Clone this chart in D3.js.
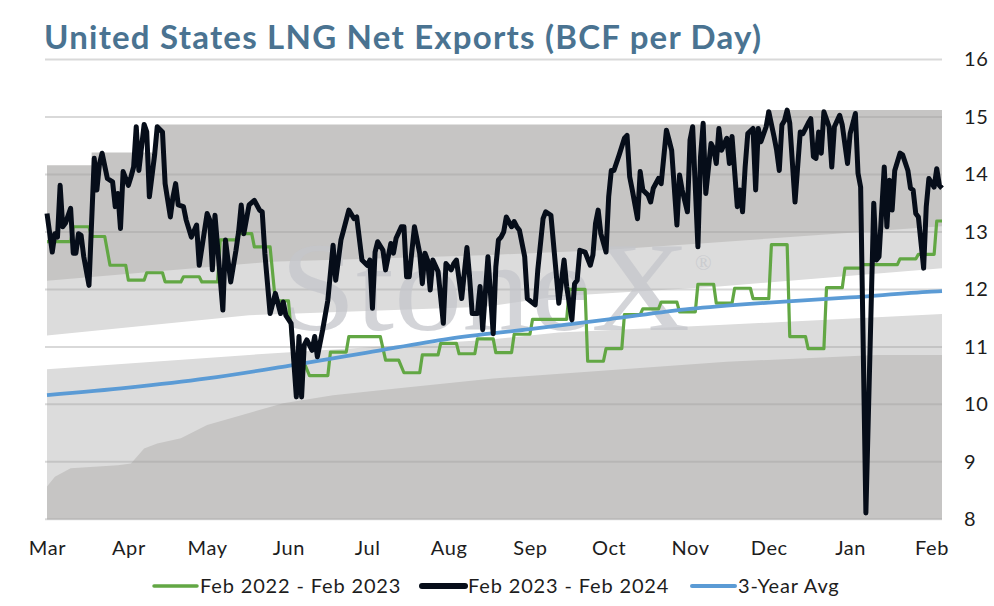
<!DOCTYPE html>
<html>
<head>
<meta charset="utf-8">
<script src="https://cdn.jsdelivr.net/npm/d3@7"></script>
<style>
  html, body { margin: 0; padding: 0; background: #fff; overflow: hidden; }
  svg { display: block; }
  text { font-family: Lato, 'Open Sans', sans-serif; }
</style>
</head>
<body>
<div id="chart"></div>
<script>
  // axis labels
  var yTicks = [8, 9, 10, 11, 12, 13, 14, 15, 16];
  var monthLabels = ['Mar', 'Apr', 'May', 'Jun', 'Jul', 'Aug', 'Sep', 'Oct', 'Nov', 'Dec', 'Jan', 'Feb'];
  var seriesNames = ['Feb 2022 - Feb 2023', 'Feb 2023 - Feb 2024', '3-Year Avg'];

  // days are counted from Mar 1
  var blackDay = [0, 2, 3, 4, 5, 6, 7, 9, 10, 11, 12, 13, 14, 16, 18, 19, 20, 21, 23, 25, 26, 27, 28, 29, 31, 32, 33, 34, 35, 37, 38, 39, 41, 42, 44, 45, 47, 48, 49, 50, 52, 53, 55, 57, 58, 61, 62, 63, 64, 67, 68, 70, 72, 73, 74, 75, 77, 79, 81, 82, 83, 85, 87, 89, 90, 91, 93, 95, 96, 97, 98, 99, 101, 102, 103, 105, 107, 109, 110, 112, 113, 115, 117, 118, 120, 122, 123, 124, 125, 126, 128, 129, 131, 132, 133, 135, 136, 137, 138, 140, 142, 143, 144, 145, 146, 147, 149, 151, 152, 154, 155, 156, 158, 160, 161, 162, 164, 165, 166, 168, 170, 171, 172, 173, 174, 175, 177, 178, 179, 180, 182, 183, 186, 187, 189, 190, 192, 194, 195, 197, 198, 200, 201, 202, 203, 205, 207, 208, 209, 210, 211, 213, 214, 215, 216, 218, 220, 221, 222, 223, 225, 226, 227, 229, 230, 231, 233, 234, 236, 237, 238, 240, 241, 242, 244, 245, 246, 248, 249, 250, 251, 253, 254, 255, 256, 257, 259, 260, 261, 263, 264, 265, 266, 267, 269, 270, 271, 272, 274, 275, 277, 278, 279, 280, 281, 282, 283, 285, 287, 288, 290, 291, 292, 293, 294, 295, 296, 298, 299, 300, 302, 303, 305, 306, 308, 309, 310, 312, 315, 316, 317, 319, 320, 321, 322, 323, 325, 326, 328, 329, 330, 331, 332, 334, 335, 336, 338, 339, 340, 341];
  var blackVal = [13.32, 12.65, 12.97, 12.91, 13.81, 13.09, 13.15, 13.41, 12.63, 12.63, 12.97, 12.94, 12.57, 12.07, 14.28, 13.73, 14.19, 14.37, 13.93, 13.87, 13.44, 13.67, 13.06, 14.05, 13.81, 13.96, 14.13, 14.83, 14.07, 14.87, 14.74, 13.61, 14.34, 14.83, 14.74, 13.84, 13.26, 13.61, 13.84, 13.47, 13.44, 13.21, 12.91, 13.12, 12.42, 13.32, 13.21, 12.34, 13.29, 11.64, 12.86, 12.13, 12.68, 13.0, 13.47, 12.97, 13.47, 13.55, 13.38, 13.35, 12.63, 11.58, 11.93, 11.58, 11.78, 11.55, 11.41, 10.13, 11.18, 10.13, 11.03, 11.12, 10.94, 11.18, 10.83, 11.29, 11.81, 12.77, 12.16, 12.86, 13.03, 13.38, 13.23, 13.26, 12.51, 12.42, 12.51, 11.67, 12.65, 12.83, 12.68, 12.34, 12.8, 12.63, 12.89, 13.09, 13.09, 12.22, 12.22, 13.09, 12.63, 12.1, 12.63, 12.51, 11.99, 12.51, 12.31, 11.41, 12.45, 12.34, 12.45, 12.51, 11.84, 12.73, 12.22, 11.58, 11.58, 12.05, 11.3, 12.57, 11.23, 12.39, 12.86, 12.91, 13.0, 13.26, 13.09, 13.18, 13.09, 13.03, 12.57, 11.84, 11.73, 12.34, 13.23, 13.35, 13.29, 12.28, 11.76, 12.51, 12.05, 11.47, 12.1, 12.16, 12.68, 12.65, 12.42, 12.6, 13.15, 13.38, 12.97, 12.65, 13.61, 14.07, 14.07, 14.34, 14.63, 14.68, 13.96, 13.73, 13.23, 14.05, 13.73, 13.64, 13.52, 13.76, 13.93, 13.84, 14.77, 14.6, 14.42, 13.12, 13.99, 13.73, 13.35, 14.6, 14.83, 12.74, 14.31, 14.89, 13.67, 14.54, 14.45, 14.19, 14.8, 14.42, 14.63, 14.19, 14.66, 13.44, 13.73, 13.35, 14.13, 14.71, 14.8, 13.73, 14.8, 14.57, 14.83, 15.09, 14.66, 14.42, 14.07, 14.86, 14.94, 15.12, 14.89, 13.52, 14.74, 14.71, 14.89, 14.97, 14.31, 14.28, 14.74, 14.37, 15.09, 14.83, 14.13, 14.83, 15.03, 14.86, 14.19, 14.71, 15.06, 14.02, 13.78, 8.11, 13.5, 12.51, 12.57, 14.13, 13.09, 13.9, 13.38, 14.07, 14.37, 14.34, 14.07, 13.76, 13.73, 13.32, 13.26, 12.37, 13.44, 13.93, 13.78, 14.1, 13.81, 13.76];

  // green series holds a value from one day to another
  var greenFrom = [0, 10, 17, 24, 31, 38, 45, 52, 59, 66, 73, 79, 87, 94, 100, 108, 115, 129, 136, 143, 150, 157, 164, 171, 178, 185, 199, 206, 213, 220, 227, 234, 241, 248, 255, 262, 269, 276, 283, 290, 297, 304, 311, 325, 332, 339];
  var greenTo = [9, 16, 22, 30, 37, 44, 51, 58, 65, 72, 78, 85, 92, 98, 107, 114, 127, 134, 142, 149, 156, 163, 170, 177, 184, 198, 205, 212, 219, 226, 233, 240, 247, 254, 261, 268, 275, 282, 289, 296, 303, 310, 324, 331, 338, 341];
  var greenVal = [12.83, 13.09, 12.92, 12.42, 12.16, 12.29, 12.13, 12.22, 12.13, 12.86, 12.97, 12.74, 11.8, 10.72, 10.5, 10.91, 11.18, 10.77, 10.55, 10.86, 11.06, 10.88, 11.14, 10.9, 11.22, 11.48, 12.0, 10.75, 10.97, 11.56, 11.66, 11.78, 11.61, 12.09, 11.76, 12.02, 11.84, 12.78, 11.18, 10.97, 12.03, 12.37, 12.43, 12.53, 12.61, 13.19];

  var avgDay = [0, 31, 61, 92, 122, 153, 184, 214, 245, 275, 306, 337, 341];
  var avgVal = [10.16, 10.29, 10.45, 10.67, 10.9, 11.14, 11.31, 11.48, 11.66, 11.77, 11.86, 11.96, 11.97];

  // shaded range bands
  var topDay = [0, 17, 42, 274, 341];
  var topVal = [14.16, 14.38, 14.87, 15.12, 15.12];
  var upperDay = [0, 85, 169, 211, 249, 341];
  var upperVal = [12.15, 12.48, 12.6, 12.68, 12.8, 13.1];
  var innerTopDay = [0, 77, 167, 195, 256, 341];
  var innerTopVal = [11.2, 11.55, 11.7, 11.88, 12.05, 12.37];
  var innerLowDay = [0, 77, 167, 195, 256, 341];
  var innerLowVal = [10.61, 10.86, 11.12, 11.25, 11.38, 11.57];
  var lowDay = [0, 3, 9, 27, 32, 37, 42, 51, 61, 74, 90, 109, 134, 170, 259, 316, 341];
  var lowVal = [8.57, 8.74, 8.89, 8.94, 8.97, 9.23, 9.32, 9.41, 9.64, 9.81, 10.02, 10.16, 10.28, 10.45, 10.74, 10.86, 10.86];

  var seasonStart = new Date(2023, 2, 1),
      seasonEnd = new Date(2024, 1, 5);

  function dayDate(d) {
    return d3.timeDay.offset(seasonStart, d);
  }

  function points(days, vals) {
    return days.map(function(d, i) { return { date: dayDate(d), value: vals[i] }; });
  }

  var greenPoints = [];
  greenFrom.forEach(function(d, i) {
    greenPoints.push({ date: dayDate(d), value: greenVal[i] });
    greenPoints.push({ date: dayDate(greenTo[i]), value: greenVal[i] });
  });

  var width = 994,
      height = 606,
      x = d3.scaleTime()
          .domain([seasonStart, seasonEnd])
          .range([47, 942]),
      y = d3.scaleLinear()
          .domain([8, 16])
          .range([519.3, 59.5]);

  var svg = d3.select('#chart')
    .append('svg')
      .attr('width', width)
      .attr('height', height);

  var band = d3.area()
      .x(function(d) { return x(d.date); })
      .y0(y(8))
      .y1(function(d) { return y(d.value); });

  // painted from the outside in
  svg.append('path')
    .datum(points(topDay, topVal))
    .attr('fill', '#c6c5c4')
    .attr('d', band.curve(d3.curveStepAfter));
  band.curve(d3.curveLinear);
  svg.append('path')
    .datum(points(upperDay, upperVal))
    .attr('fill', '#dcdcdc')
    .attr('d', band);
  svg.append('path')
    .datum(points(innerTopDay, innerTopVal))
    .attr('fill', '#ffffff')
    .attr('d', band);
  svg.append('path')
    .datum(points(innerLowDay, innerLowVal))
    .attr('fill', '#dcdcdc')
    .attr('d', band);
  svg.append('path')
    .datum(points(lowDay, lowVal))
    .attr('fill', '#c6c5c4')
    .attr('d', band);

  svg.append('g')
    .selectAll('line')
    .data(yTicks)
    .join('line')
      .attr('x1', 45)
      .attr('x2', 942)
      .attr('y1', function(d) { return y(d); })
      .attr('y2', function(d) { return y(d); })
      .attr('stroke', '#a0a0a0')
      .attr('stroke-opacity', 0.4)
      .attr('stroke-width', 2);

  // watermark
  svg.append('text')
    .attr('x', 280)
    .attr('y', 330)
    .attr('textLength', 410)
    .attr('lengthAdjust', 'spacingAndGlyphs')
    .style('font-family', "'Liberation Serif', 'DejaVu Serif', serif")
    .style('font-size', '126px')
    .attr('fill', '#c4c6cb')
    .attr('fill-opacity', 0.75)
    .text('StoneX');
  svg.append('text')
    .attr('x', 695)
    .attr('y', 270)
    .style('font-family', "'Liberation Serif', serif")
    .style('font-size', '22px')
    .attr('fill', '#c4c6cb')
    .attr('fill-opacity', 0.75)
    .text('\u00ae');

  var line = d3.line()
      .x(function(d) { return x(d.date); })
      .y(function(d) { return y(d.value); });

  svg.append('path')
    .datum(greenPoints)
    .attr('fill', 'none')
    .attr('stroke', '#62a744')
    .attr('stroke-width', 3.2)
    .attr('stroke-linejoin', 'round')
    .attr('d', line);

  svg.append('path')
    .datum(points(avgDay, avgVal))
    .attr('fill', 'none')
    .attr('stroke', '#5b9bd5')
    .attr('stroke-width', 3.8)
    .attr('d', line.curve(d3.curveMonotoneX));
  line.curve(d3.curveLinear);

  svg.append('path')
    .datum(points(blackDay, blackVal))
    .attr('fill', 'none')
    .attr('stroke', '#060d19')
    .attr('stroke-width', 5)
    .attr('stroke-linejoin', 'round')
    .attr('d', line);

  // axes
  var months = monthLabels.map(function(m, i) { return d3.timeMonth.offset(seasonStart, i); });

  var xAxis = svg.append('g')
    .attr('transform', 'translate(0,' + 538 + ')')
    .call(d3.axisBottom(x)
      .tickValues(months)
      .tickSize(0)
      .tickFormat(function(d, i) { return monthLabels[i]; }));

  var yAxis = svg.append('g')
    .attr('transform', 'translate(942,0)')
    .call(d3.axisRight(y)
      .tickValues(yTicks)
      .tickSize(0)
      .tickPadding(22));

  [xAxis, yAxis].forEach(function(g) {
    g.select('.domain').remove();
    g.selectAll('text')
      .style('font-family', 'Lato, sans-serif')
      .style('font-size', '20px')
      .style('letter-spacing', '0.6px')
      .attr('fill', '#1d1d1d');
  });

  svg.append('text')
    .attr('x', 44)
    .attr('y', 49)
    .attr('textLength', 717)
    .attr('lengthAdjust', 'spacing')
    .style('font-size', '33px')
    .style('font-weight', 700)
    .attr('fill', '#4a7391')
    .text('United States LNG Net Exports (BCF per Day)');

  // legend
  var legendColors = ['#62a744', '#060d19', '#5b9bd5'],
      legendWidths = [3.5, 6, 4],
      legendX = [154, 422, 692];

  var legend = svg.append('g')
    .selectAll('g')
    .data(seriesNames)
    .join('g')
      .attr('transform', function(d, i) { return 'translate(' + legendX[i] + ',586)'; });

  legend.append('line')
    .attr('x1', 0)
    .attr('x2', 43)
    .attr('stroke', function(d, i) { return legendColors[i]; })
    .attr('stroke-width', function(d, i) { return legendWidths[i]; })
    .attr('stroke-linecap', 'round');

  legend.append('text')
    .attr('x', 46)
    .attr('y', 7)
    .style('font-size', '20px')
    .style('letter-spacing', '0.85px')
    .attr('fill', '#1d1d1d')
    .text(function(d) { return d; });
</script>
</body>
</html>
